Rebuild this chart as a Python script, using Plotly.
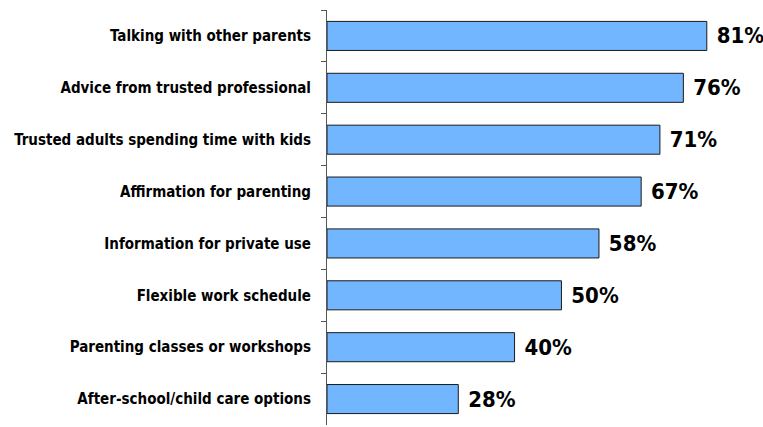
import plotly.graph_objects as go

categories = [
    "Talking with other parents",
    "Advice from trusted professional",
    "Trusted adults spending time with kids",
    "Affirmation for parenting",
    "Information for private use",
    "Flexible work schedule",
    "Parenting classes or workshops",
    "After-school/child care options",
]
values = [81, 76, 71, 67, 58, 50, 40, 28]
value_labels = [f"\u00a0{v}%" for v in values]

FONT = "DejaVu Sans Condensed, Liberation Sans Narrow, Roboto Condensed, sans-serif"

fig = go.Figure(
    go.Bar(
        x=values,
        y=categories,
        orientation="h",
        width=0.56,
        marker=dict(color="#72b6ff", line=dict(color="#1a1a1a", width=1)),
        text=value_labels,
        textposition="outside",
        textfont=dict(family=FONT, size=22, color="#000000", weight="bold"),
        cliponaxis=False,
    )
)

fig.update_layout(
    width=763,
    height=427,
    margin=dict(l=327, r=14, t=10, b=2),
    plot_bgcolor="white",
    paper_bgcolor="white",
    showlegend=False,
    font=dict(family=FONT, color="#000000"),
)
fig.update_xaxes(range=[0, 90], visible=False)
fig.update_yaxes(
    autorange="reversed",
    showline=True,
    linecolor="#555555",
    linewidth=1,
    ticks="outside",
    tickson="boundaries",
    ticklen=5,
    tickcolor="#555555",
    tickfont=dict(family=FONT, size=15, color="#000000", weight="bold"),
    ticklabelstandoff=12,
    showgrid=False,
)

fig.write_html("out.html")
